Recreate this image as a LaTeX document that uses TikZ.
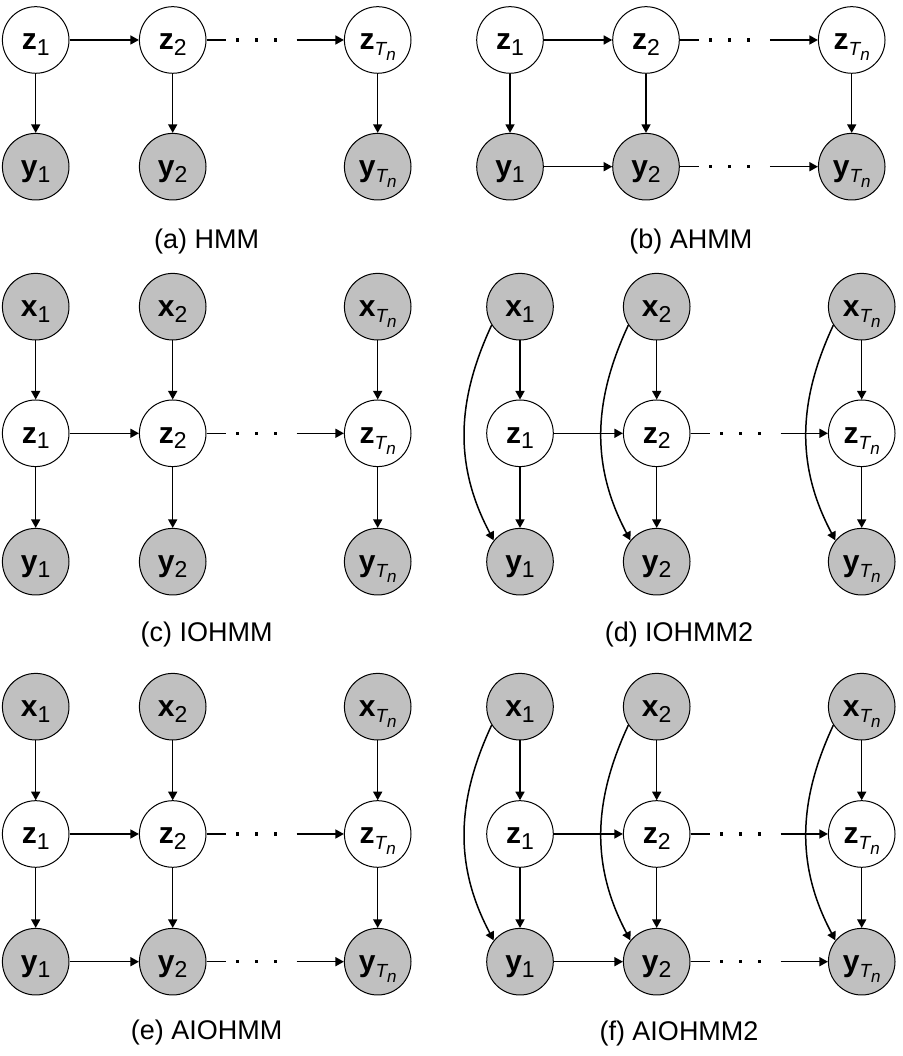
\documentclass[tikz,border=0pt]{standalone}
\usepackage{fontspec}
\setmainfont{Liberation Sans}
\usetikzlibrary{arrows.meta}
\definecolor{obsgray}{RGB}{192,192,192}
\newcommand\lab[2]{\fontsize{30}{30}\selectfont\bfseries #1\raisebox{-5.7pt}{\fontsize{23}{23}\mdseries\selectfont #2}}
\newcommand\labT[1]{\fontsize{30}{30}\selectfont\bfseries #1\raisebox{-6pt}{\fontsize{19}{19}\mdseries\itshape\selectfont T\raisebox{-5pt}{\fontsize{17}{17}\selectfont n}}}
\tikzset{
  gnode/.style={circle, draw=black, line width=1pt, minimum size=66.6pt, inner sep=0pt,
    text height=20pt, text depth=0pt},
  lat/.style={gnode, fill=white},
  obs/.style={gnode, fill=obsgray},
  edge/.style={line width=1.5pt, draw=black},
  arr/.style={-{Triangle[length=8.5pt,width=9pt]}},
  dotline/.style={line width=3.3pt, draw=black,
    dash pattern=on 0pt off 29.5pt on 3pt off 16pt on 3pt off 16pt on 3pt off 300pt},
  caption/.style={anchor=base, font=\fontsize{27}{27}\selectfont, inner sep=0pt}
}
% row of three nodes: name prefix, letter, style, y, x1, x2, x3
\newcommand\mkrow[7]{%
  \node[#3] (#11) at (#5,#4) {\lab{#2}{1}};
  \node[#3] (#12) at (#6,#4) {\lab{#2}{2}};
  \node[#3] (#1T) at (#7,#4) {\labT{#2}};
}
\newcommand\hlink[1]{%
  \draw[edge,arr] (#11) -- (#12);
  \draw[edge,arr,dash pattern=on 19pt off 71pt on 400pt] (#12) -- (#1T);
  \draw[dotline] (#12) -- (#1T);
}
\newcommand\vlink[2]{%
  \draw[edge,arr] (#11) -- (#21);
  \draw[edge,arr] (#12) -- (#22);
  \draw[edge,arr] (#1T) -- (#2T);
}
\newcommand\curv[2]{%
  \draw[edge,arr] (#11.213.7) to[out=245,in=118] (#21.141.6);
  \draw[edge,arr] (#12.213.7) to[out=245,in=118] (#22.141.6);
  \draw[edge,arr] (#1T.213.7) to[out=245,in=118] (#2T.141.6);
}
\begin{document}
\begin{tikzpicture}[x=1pt,y=1pt]
\useasboundingbox (0,0) rectangle (902,1056);
\fill[white] (0,0) rectangle (902,1056);

% (a) HMM
\mkrow{az}{z}{lat}{1016}{35.7}{172.7}{377.7}
\mkrow{ay}{y}{obs}{889.3}{35.7}{172.7}{377.7}
\hlink{az}
\vlink{az}{ay}
\node[caption] (capa) at (206.7,807.7) {(a) HMM};

% (b) AHMM
\mkrow{bz}{z}{lat}{1016}{510}{646}{851.7}
\mkrow{by}{y}{obs}{889.3}{510}{646}{851.7}
\hlink{bz}
\hlink{by}
\vlink{bz}{by}
\node[caption] (capb) at (690.8,807.7) {(b) AHMM};

% (c) IOHMM
\mkrow{cx}{x}{obs}{749.3}{35.7}{172.7}{377.7}
\mkrow{cz}{z}{lat}{622.7}{35.7}{172.7}{377.7}
\mkrow{cy}{y}{obs}{494.3}{35.7}{172.7}{377.7}
\vlink{cx}{cz}
\vlink{cz}{cy}
\hlink{cz}
\node[caption] (capc) at (206.7,414.3) {(c) IOHMM};

% (d) IOHMM2
\mkrow{dx}{x}{obs}{749.3}{520}{656.7}{861.7}
\mkrow{dz}{z}{lat}{622.7}{520}{656.7}{861.7}
\mkrow{dy}{y}{obs}{494.3}{520}{656.7}{861.7}
\vlink{dx}{dz}
\vlink{dz}{dy}
\hlink{dz}
\curv{dx}{dy}
\node[caption] (capd) at (679,414.3) {(d) IOHMM2};

% (e) AIOHMM
\mkrow{ex}{x}{obs}{349.3}{35.7}{172.7}{377.7}
\mkrow{ez}{z}{lat}{222}{35.7}{172.7}{377.7}
\mkrow{ey}{y}{obs}{94.3}{35.7}{172.7}{377.7}
\vlink{ex}{ez}
\vlink{ez}{ey}
\hlink{ez}
\hlink{ey}
\node[caption] (cape) at (206.7,16.5) {(e) AIOHMM};

% (f) AIOHMM2
\mkrow{fx}{x}{obs}{349.3}{520}{656.7}{861.7}
\mkrow{fz}{z}{lat}{222}{520}{656.7}{861.7}
\mkrow{fy}{y}{obs}{94.3}{520}{656.7}{861.7}
\vlink{fx}{fz}
\vlink{fz}{fy}
\hlink{fz}
\hlink{fy}
\curv{fx}{fy}
\node[caption] (capf) at (679,15) {(f) AIOHMM2};
\end{tikzpicture}
\end{document}
